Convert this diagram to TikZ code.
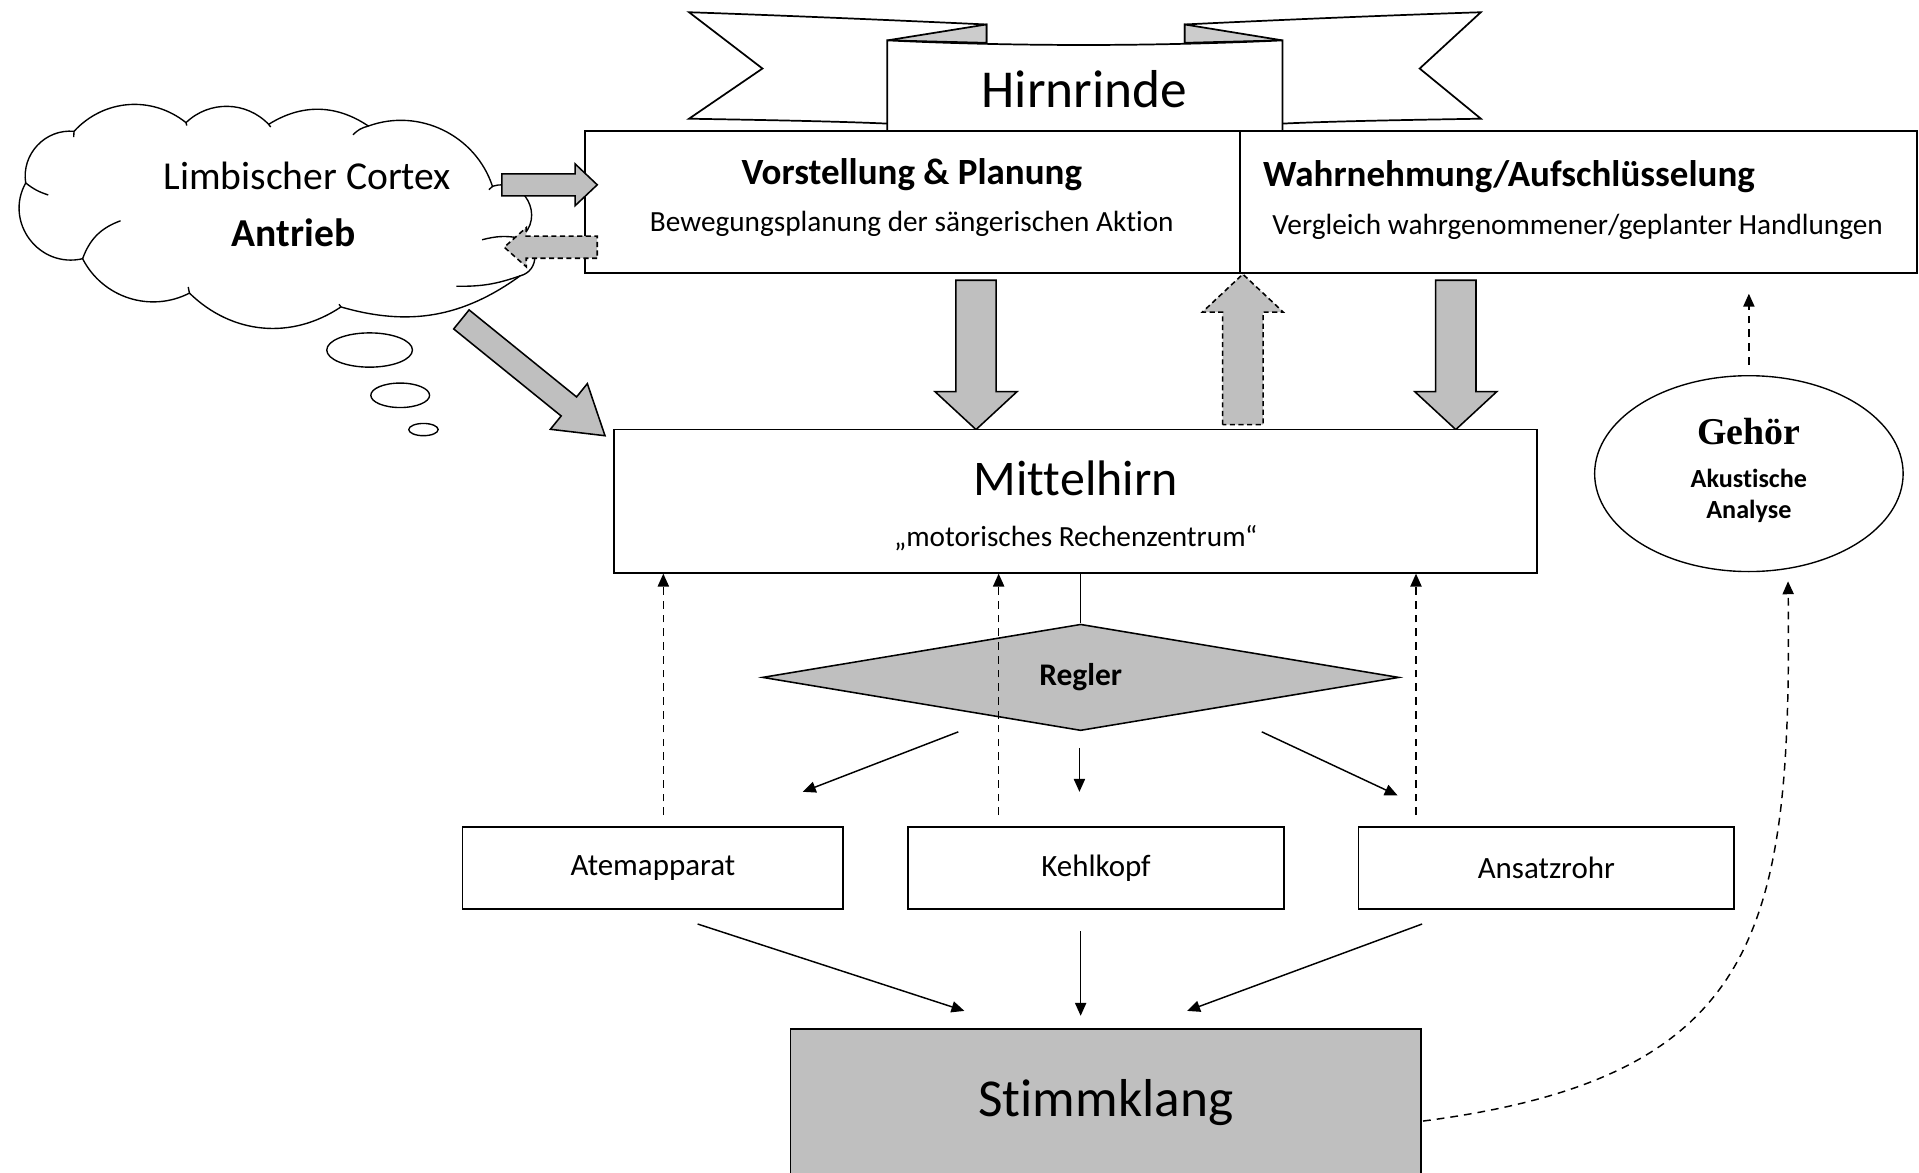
\documentclass[tikz,border=0pt]{standalone}
\usepackage{fontspec}
\setmainfont{Carlito}[Ligatures=NoCommon]
\newfontfamily\timesf{Liberation Serif}
\usetikzlibrary{shapes.geometric,arrows.meta,calc}
\definecolor{boxgray}{HTML}{BFBFBF}
\newcommand{\fsz}[1]{\fontsize{#1}{#1}\selectfont}
\newcommand{\blockarrow}[7]{%
  \begin{scope}[shift={(#2)},rotate=#3]
  \draw[#1] (0,-#5) -- ({#4-#7},-#5) -- ({#4-#7},-#6) -- (#4,0) -- ({#4-#7},#6) -- ({#4-#7},#5) -- (0,#5) -- cycle;
  \end{scope}}
\tikzset{
  box/.style={draw=black, line width=1pt, fill=white, inner sep=0pt},
  conn/.style={line width=0.85pt, -{Triangle[length=7.5pt,width=6.5pt]}},
  dconn/.style={conn, dash pattern=on 4.5pt off 3.5pt},
  garrow/.style={draw=black, line width=0.9pt, fill=boxgray, line join=miter},
  gdarrow/.style={garrow, dash pattern=on 3pt off 2pt},
  ribbon/.style={draw=black, line width=1pt, fill=white, line join=miter},
  fold/.style={draw=black, line width=1pt, fill=boxgray!80, line join=miter},
  cloudline/.style={draw=black, line width=0.8pt},
}
\begin{document}
\begin{tikzpicture}[x=0.025cm,y=-0.025cm]
\useasboundingbox (0,0) rectangle (1568,958);
\begin{scope}
\clip (0,0) rectangle (1568,958);
% ribbon
\draw[ribbon] (563,10) .. controls (650,13) and (740,17) .. (806,20) -- (806,101) -- (725,101) .. controls (680,99) and (620,98) .. (563,97) -- (623,56) -- cycle;
\draw[ribbon] (1210,10) .. controls (1120,13) and (1030,17) .. (968,20) -- (968,101) -- (1048,101) .. controls (1090,99) and (1150,98) .. (1210,97) -- (1160,56) -- cycle;
\draw[fold] (725,33) -- (806,20) -- (806,35) -- cycle;
\draw[fold] (1048,33) -- (968,20) -- (968,35) -- cycle;
\draw[ribbon] (725,33) .. controls (830,38) and (940,38) .. (1048,33) -- (1048,110) -- (725,110) -- cycle;
\node[font=\fsz{31}] (hirn) at (886,73) {Hirnrinde};
% cloud (drawn directly)
\filldraw[cloudline, fill=white]
  (21,149.5) to[bend left=52, looseness=1.05] (60.5,107.3)
  to[bend left=43] (152,100.2)
  to[bend left=45] (219.5,101.6)
  to[bend left=33] (301,103)
  to[bend left=46] (402.4,152.3)
  to[bend left=80, looseness=1.45] (425,194.5)
  to[bend left=76, looseness=1.37] (425,225.4)
  to[bend left=26] (278.6,250.8)
  to[bend left=39] (154.8,239.5)
  to[bend left=45] (67.5,211.4)
  to[bend left=66, looseness=1.21] (21,149.5) -- cycle;
\draw[cloudline] (21,149.5) to[bend right=10] (39.4,159.3);
\draw[cloudline] (60.5,107.3) -- (60.2,112);
\draw[cloudline] (152,100.2) -- (152.6,102.6);
\draw[cloudline] (219.5,101.6) -- (221.2,103.8);
\draw[cloudline] (301,103) to[bend right=15] (288.4,110.1);
\draw[cloudline] (402.4,152.3) -- (399.5,155);
\draw[cloudline] (425,194.5) to[bend right=12] (393.9,195.9);
\draw[cloudline] (425,225.4) to[bend left=10] (372.8,233.9);
\draw[cloudline] (278.6,250.8) -- (277,248.6);
\draw[cloudline] (154.8,239.5) -- (153.8,234.5);
\draw[cloudline] (67.5,211.4) to[bend left=25] (98.5,180.4);
\node[font=\fsz{23}] (limb) at (251,144) {Limbischer Cortex};
\node[font=\fsz{23}\bfseries] (antr) at (240,190) {Antrieb};
\draw[line width=0.8pt] (302,286) ellipse [x radius=35, y radius=14];
\draw[line width=0.8pt] (327,323) ellipse [x radius=24, y radius=10];
\draw[line width=0.8pt] (346,351) ellipse [x radius=12, y radius=5];
% cortex boxes
\node[box, minimum width=13.825cm, minimum height=2.9cm] (wahr) at (1289.5,165) {};
\node[box, minimum width=13.375cm, minimum height=2.9cm] (plan) at (745.5,165) {};
\node[font=\fsz{21.5}\bfseries] (plant) at (745,143) {Vorstellung \& Planung};
\node[font=\fsz{17}] (plans) at (745,183) {Bewegungsplanung der sängerischen Aktion};
\node[font=\fsz{21.5}\bfseries] (wahrt) at (1233,144) {Wahrnehmung/Aufschlüsselung};
\node[font=\fsz{17}] (wahrs) at (1289,185) {Vergleich wahrgenommener/geplanter Handlungen};
% block arrows
\blockarrow{garrow}{410,151}{0}{78}{9}{17}{18}
\blockarrow{gdarrow}{488,202}{180}{76}{9}{16}{18}
\blockarrow{garrow}{377,261}{-39}{151}{10}{24}{38}
\blockarrow{garrow}{797.5,229}{-90}{122}{16.5}{33.5}{31}
\blockarrow{garrow}{1189.5,229}{-90}{122}{16.5}{33.5}{31}
\blockarrow{gdarrow}{1015.5,347}{90}{123}{16.5}{33}{31}
% Mittelhirn
\node[box, minimum width=18.85cm, minimum height=2.925cm] (mitte) at (879,409.5) {};
\node[font=\fsz{29}] (mittet) at (879,391) {Mittelhirn};
\node[font=\fsz{17}] (mittes) at (879,440) {„motorisches Rechenzentrum“};
% Regler
\node[diamond, draw, fill=boxgray, line width=0.9pt, aspect=6, minimum width=13cm, minimum height=2.175cm, inner sep=0pt, font=\fsz{18.3}\bfseries] (regler) at (883,553.5) {Regler};
\draw[line width=0.9pt] (regler.north |- mitte.south) -- (regler.north);
% organ boxes
\node[box, minimum width=7.775cm, minimum height=1.675cm, font=\fsz{18}] (atem) at (533.5,709.5) {Atemapparat};
\node[box, minimum width=7.675cm, minimum height=1.675cm, font=\fsz{18}] (kehl) at (895.5,709.5) {Kehlkopf};
\node[box, minimum width=7.675cm, minimum height=1.675cm, font=\fsz{18}] (ansatz) at (1263.5,709.5) {Ansatzrohr};
% Stimmklang
\node[box, fill=boxgray, minimum width=12.875cm, minimum height=3cm, font=\fsz{31}] (stimm) at (903.5,901) {Stimmklang};
% Gehoer
\node[ellipse, draw, line width=0.8pt, minimum width=6.3cm, minimum height=4cm, inner sep=0pt] (gehoer) at (1429,387) {};
\node[font=\timesf\bfseries\fsz{22}] (geht) at (1429,353) {Gehör};
\node[font=\fsz{15.2}\bfseries] (aku) at (1429,391) {Akustische};
\node[font=\fsz{15.2}\bfseries] (ana) at (1429,418) {Analyse};
% connectors
\coordinate (d1) at (542,666);
\coordinate (d2) at (816,666);
\coordinate (d3) at (1157,666);
\draw[dconn] (d1) -- (d1 |- mitte.south);
\draw[dconn] (d2) -- (d2 |- mitte.south);
\draw[dconn] (d3) -- (d3 |- mitte.south);
\coordinate (r1s) at (783,598); \coordinate (r1e) at (656,647);
\coordinate (r2s) at (882,611); \coordinate (r2e) at (882,647);
\coordinate (r3s) at (1031,598); \coordinate (r3e) at (1142,650);
\draw[conn] (r1s) -- (r1e);
\draw[conn] (r2s) -- (r2e);
\draw[conn] (r3s) -- (r3e);
\coordinate (s1s) at (570,755); \coordinate (s1e) at (788,826);
\coordinate (s2s) at (883,761); \coordinate (s2e) at (883,830);
\coordinate (s3s) at (1162,755); \coordinate (s3e) at (970,826);
\draw[conn] (s1s) -- (s1e);
\draw[conn] (s2s) -- (s2e);
\draw[conn] (s3s) -- (s3e);
\coordinate (g1) at (1429,298); \coordinate (g2) at (1429,240);
\draw[dconn] (g1) -- (g2);
\coordinate (ge) at (1461,475);
\draw[dconn] ($(stimm.east)+(1,15)$) .. controls (1440,880) and (1464,760) .. (ge);
\end{scope}
\end{tikzpicture}
\end{document}
